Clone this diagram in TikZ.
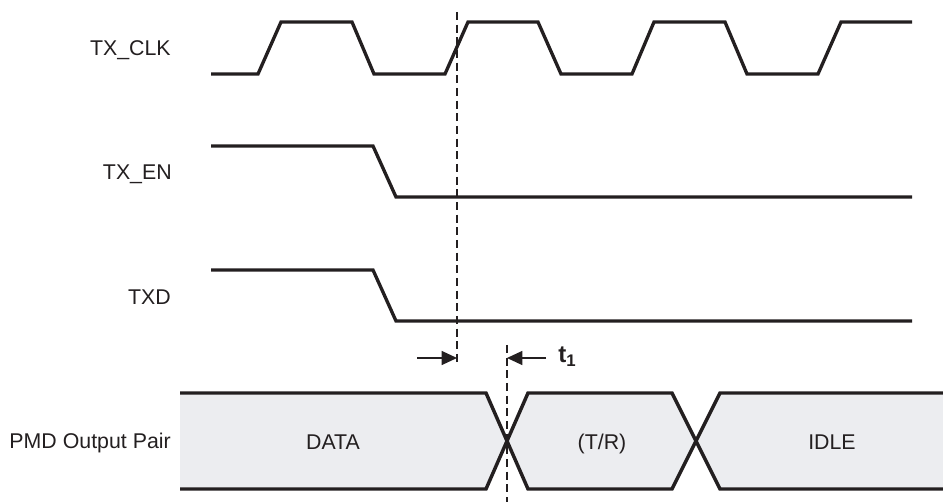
\documentclass[tikz,border=0pt]{standalone}
\usepackage{fontspec}
\setmainfont{Liberation Sans}
\usepackage{tikz}
\usetikzlibrary{arrows.meta,positioning}
\definecolor{Ink}{RGB}{35,31,32}
\definecolor{BusGray}{RGB}{236,237,240}
\tikzset{wave/.style ={
        draw=Ink,
        line width=2.5pt,
        line join=miter,
    },
    bus/.style ={
        fill=BusGray,
    },
    busedge/.style ={
        draw=Ink,
        line width=2.6pt,
        line join=miter,
    },
    marker/.style ={
        draw=Ink,
        line width=0.8pt,
        dash pattern=on 6pt off 3.5pt,
    },
    timing/.style ={
        draw=Ink,
        line width=1pt,
        -{Triangle[length=11.5pt,width=10.5pt]},
    }}

\begin{document}
\begin{tikzpicture}
    [
    x=0.75pt, y=-0.75pt,
    siglabel/.style={
        anchor=base east,
        inner sep=0,
        text=Ink
    },
    buslabel/.style={
        anchor=base,
        inner sep=0,
        text=Ink
    }
    ]
    \fontsize{16}{19}\selectfont
    \useasboundingbox (0,0) rectangle (943,502);

    \node (clklabel)[siglabel] at (171,55.5) {TX\_CLK};
    \node (enlabel)[siglabel] at (172,179.5) {TX\_EN};
    \node (txdlabel)[siglabel] at (171,304.5) {TXD};
    \node (pmdlabel)[siglabel] at (171,448) {PMD Output Pair};

    % TX_CLK
    \draw[wave] (211,74) -- (258,74) -- (281,22) -- (352,22) -- (374,74)
        -- (445,74) -- (468,22) -- (538,22) -- (561,74)
        -- (632,74) -- (654,22) -- (725,22) -- (747,74)
        -- (818,74) -- (841,22) -- (912,22);

    % TX_EN and TXD
    \draw[wave] (211,146) -- (373,146) -- (396,197) -- (912,197);
    \draw[wave] (211,270) -- (373,270) -- (396,321) -- (912,321);

    % PMD output pair
    \fill[bus] (180,393) -- (486,393) -- (507,441) -- (486,489) -- (180,489) -- cycle;
    \fill[bus] (507,441) -- (528,393) -- (672,393) -- (696,441) -- (672,489) -- (528,489) -- cycle;
    \fill[bus] (696,441) -- (720,393) -- (943,393) -- (943,489) -- (720,489) -- cycle;
    \draw[busedge] (180,393) -- (486,393) -- (528,489) -- (672,489) -- (720,393) -- (943,393);
    \draw[busedge] (180,489) -- (486,489) -- (528,393) -- (672,393) -- (720,489) -- (943,489);

    \node (data)[buslabel] at (333,450) {DATA};
    \node (tr)[buslabel] at (602,450) {(T/R)};
    \node (idle)[buslabel] at (832,450) {IDLE};

    % markers
    \coordinate (m1top) at (457,12);
    \coordinate (m1bot) at (457,363);
    \coordinate (m2top) at (507,345);
    \coordinate (m2bot) at (507,502);
    \draw[marker] (m1top) -- (m1bot);
    \draw[marker] (m2top) -- (m2bot);

    \coordinate (a1tail) at (417,358);
    \coordinate (a1tip) at (457,358);
    \coordinate (a2tail) at (546,358);
    \coordinate (a2tip) at (507,358);
    \draw[timing] (a1tail) -- (a1tip);
    \draw[timing] (a2tail) -- (a2tip);

    \node (t1)[anchor=base west,inner sep=0,text=Ink,font=\fontsize{18}{20}\selectfont\bfseries] at (558,363) {t\textsubscript{1}};

\end{tikzpicture}
\end{document}
